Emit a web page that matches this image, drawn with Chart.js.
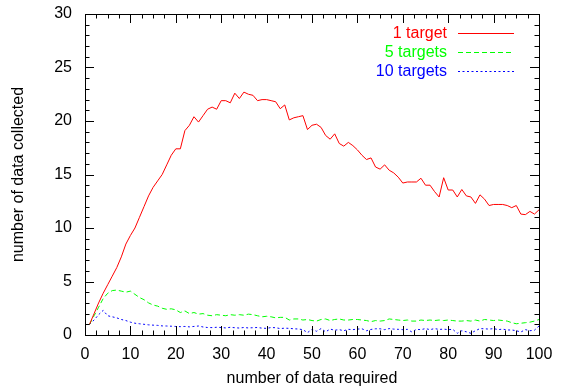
<!DOCTYPE html>
<html>
<head>
<meta charset="utf-8">
<script src="https://cdn.jsdelivr.net/npm/chart.js@4/dist/chart.umd.min.js"></script>
<style>
  body { margin: 0; background: #fff; }
  canvas { display: block; }
</style>
</head>
<body>
<canvas id="chart" width="566" height="392"></canvas>
<script>
// number of data required (x)
const dataRequired = Array.from({ length: 100 }, (_, i) => i + 1);

const oneTarget = [
    1.0, 2.0, 3.0, 3.9, 4.7, 5.5, 6.3, 7.3, 8.5, 9.3,
    10.0, 11.0, 12.0, 13.0, 13.8, 14.4, 15.0, 15.9, 16.8, 17.4,
    17.4, 19.1, 19.6, 20.4, 19.9, 20.5, 21.1, 21.3, 21.1, 21.9,
    21.9, 21.7, 22.6, 22.1, 22.7, 22.5, 22.4, 21.9, 22.0, 22.0,
    21.9, 21.8, 21.15, 21.5, 20.1, 20.3, 20.4, 20.5, 19.2, 19.6,
    19.7, 19.4, 18.65, 18.3, 18.8, 17.9, 17.65, 18.0, 17.7, 17.3,
    16.8, 16.4, 16.55, 15.7, 15.5, 15.9, 15.4, 15.15, 14.75, 14.2,
    14.3, 14.3, 14.3, 14.65, 14.0, 14.0, 13.4, 12.9, 14.7, 13.55,
    13.55, 12.9, 13.6, 13.0, 12.9, 12.3, 13.1, 12.7, 12.1, 12.2,
    12.2, 12.2, 12.1, 11.9, 12.1, 11.3, 11.25, 11.55, 11.3, 11.7
];

const fiveTargets = [
    1.0, 1.8, 2.6, 3.4, 3.9, 4.15, 4.2, 4.1, 4.0, 4.1,
    3.8, 3.5, 3.3, 3.0, 2.8, 2.7, 2.5, 2.4, 2.45, 2.35,
    2.1, 2.25, 2.0, 2.1, 1.95, 2.0, 1.85, 1.8, 1.9, 1.85,
    1.8, 1.9, 1.85, 1.9, 1.85, 1.95, 1.9, 1.8, 1.7, 1.75,
    1.7, 1.6, 1.65, 1.65, 1.4, 1.5, 1.5, 1.4, 1.45, 1.35,
    1.3, 1.45, 1.5, 1.35, 1.45, 1.5, 1.4, 1.4, 1.45, 1.45,
    1.4, 1.35, 1.25, 1.35, 1.3, 1.35, 1.5, 1.45, 1.4, 1.35,
    1.4, 1.3, 1.3, 1.4, 1.35, 1.4, 1.35, 1.4, 1.35, 1.4,
    1.35, 1.3, 1.3, 1.35, 1.3, 1.4, 1.3, 1.45, 1.4, 1.35,
    1.4, 1.35, 1.3, 1.15, 1.05, 1.1, 1.15, 1.2, 1.3, 1.45
];

const tenTargets = [
    1.0, 1.4, 1.9, 2.3, 1.8, 1.7, 1.6, 1.45, 1.35, 1.2,
    1.1, 1.05, 1.0, 0.95, 0.92, 0.9, 0.85, 0.84, 0.82, 0.8,
    0.78, 0.8, 0.76, 0.8, 0.84, 0.75, 0.7, 0.69, 0.72, 0.7,
    0.66, 0.72, 0.68, 0.65, 0.7, 0.66, 0.68, 0.7, 0.64, 0.62,
    0.7, 0.68, 0.6, 0.64, 0.62, 0.58, 0.56, 0.5, 0.22, 0.53,
    0.35, 0.6, 0.3, 0.55, 0.45, 0.5, 0.4, 0.53, 0.5, 0.55,
    0.58, 0.4, 0.52, 0.58, 0.58, 0.5, 0.6, 0.55, 0.53, 0.5,
    0.53, 0.28, 0.53, 0.5, 0.6, 0.5, 0.6, 0.52, 0.55, 0.5,
    0.53, 0.16, 0.4, 0.3, 0.16, 0.4, 0.6, 0.58, 0.55, 0.6,
    0.5, 0.55, 0.47, 0.47, 0.4, 0.28, 0.5, 0.4, 0.45, 0.84
];

const xTicks = [0, 10, 20, 30, 40, 50, 60, 70, 80, 90, 100];
const yTicks = [0, 5, 10, 15, 20, 25, 30];

const FONT = 'Liberation Sans, Arial, Helvetica, sans-serif';

const toPoints = (ys) => ys.map((v, i) => ({ x: dataRequired[i], y: v }));

// gnuplot style frame: box, inward ticks on all sides, legend in the top right corner
const gnuplotFrame = {
    id: 'gnuplotFrame',
    afterDatasetsDraw(chart) {
        const { ctx, chartArea: a, scales } = chart;
        const xs = scales.x;
        const ys = scales.y;
        ctx.save();
        ctx.strokeStyle = '#000';
        ctx.lineWidth = 1;
        ctx.beginPath();
        const major = 9;
        const minor = 4.5;
        // x ticks (minor every 2.5)
        for (let v = 0; v <= 100; v += 2.5) {
            const px = Math.round(xs.getPixelForValue(v)) + 0.5;
            const len = xTicks.includes(v) ? major : minor;
            ctx.moveTo(px, a.bottom); ctx.lineTo(px, a.bottom - len);
            ctx.moveTo(px, a.top); ctx.lineTo(px, a.top + len);
        }
        // y ticks (minor every 1)
        for (let v = 0; v <= 30; v += 1) {
            const py = Math.round(ys.getPixelForValue(v)) + 0.5;
            const len = yTicks.includes(v) ? major : minor;
            ctx.moveTo(a.left, py); ctx.lineTo(a.left + len, py);
            ctx.moveTo(a.right, py); ctx.lineTo(a.right - len, py);
        }
        ctx.stroke();
        ctx.strokeRect(Math.round(a.left) + 0.5, Math.round(a.top) + 0.5,
            Math.round(a.right - a.left), Math.round(a.bottom - a.top));

        // legend
        ctx.font = '16px ' + FONT;
        ctx.textAlign = 'right';
        ctx.textBaseline = 'middle';
        chart.data.datasets.forEach((ds, i) => {
            const yy = Math.round(a.top + 19 + i * 19);
            ctx.fillStyle = ds.borderColor;
            ctx.fillText(ds.label, 447, yy + 1);
            // sample line, drawn as 1px segments following the dash pattern
            const dash = ds.borderDash || [56, 0];
            let x = 458;
            let k = 0;
            while (x < 514) {
                const len = Math.min(dash[k % dash.length], 514 - x);
                if (k % 2 === 0) ctx.fillRect(x, yy, len, 1);
                x += dash[k % dash.length];
                k++;
            }
        });
        ctx.restore();
    }
};

new Chart(document.getElementById('chart').getContext('2d'), {
    type: 'line',
    data: {
        datasets: [
            {
                label: '1 target',
                data: toPoints(oneTarget),
                borderColor: '#ff0000',
                borderWidth: 1,
                pointRadius: 0,
                fill: false,
            },
            {
                label: '5 targets',
                data: toPoints(fiveTargets),
                borderColor: '#00ff00',
                borderWidth: 1,
                borderDash: [5, 3],
                pointRadius: 0,
                fill: false,
            },
            {
                label: '10 targets',
                data: toPoints(tenTargets),
                borderColor: '#0000ff',
                borderWidth: 1,
                borderDash: [2, 2.5],
                pointRadius: 0,
                fill: false,
            },
        ],
    },
    options: {
        responsive: false,
        animation: false,
        layout: { padding: { top: 14, right: 27, left: 0, bottom: 0 } },
        plugins: {
            legend: { display: false },
            tooltip: { enabled: false },
        },
        scales: {
            x: {
                type: 'linear',
                min: 0,
                max: 100,
                afterBuildTicks: (scale) => { scale.ticks = xTicks.map((v) => ({ value: v })); },
                afterFit: (scale) => {
                    scale.height = 57;
                    scale.paddingLeft = 0;
                    scale.paddingRight = 0;
                },
                grid: { display: false, drawTicks: false },
                border: { display: false },
                ticks: { color: '#000', font: { family: FONT, size: 16 }, padding: 10, maxRotation: 0 },
                title: {
                    display: true,
                    text: 'number of data required',
                    color: '#000',
                    font: { family: FONT, size: 16 },
                    padding: { top: 8 },
                },
            },
            y: {
                type: 'linear',
                min: 0,
                max: 30,
                afterBuildTicks: (scale) => { scale.ticks = yTicks.map((v) => ({ value: v })); },
                afterFit: (scale) => {
                    scale.width = 85;
                    scale.paddingTop = 0;
                    scale.paddingBottom = 0;
                },
                grid: { display: false, drawTicks: false },
                border: { display: false },
                ticks: { color: '#000', font: { family: FONT, size: 16 }, padding: 13 },
                title: {
                    display: true,
                    text: 'number of data collected',
                    color: '#000',
                    font: { family: FONT, size: 16 },
                    padding: { top: 9, bottom: 0 },
                },
            },
        },
    },
    plugins: [gnuplotFrame],
});
</script>
</body>
</html>
